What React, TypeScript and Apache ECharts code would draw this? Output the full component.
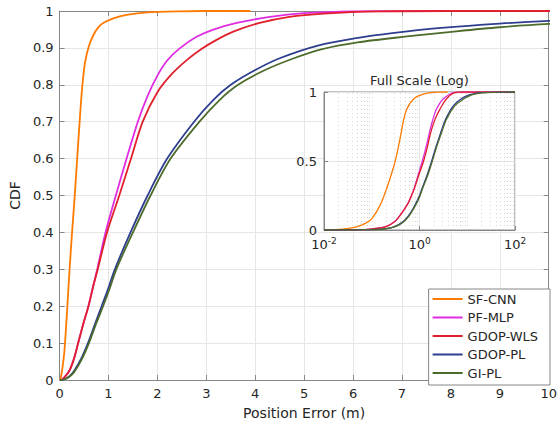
import React, { useEffect, useRef } from 'react';
import * as echarts from 'echarts';

// ---------- Data ----------
const SERIES_NAMES = ['SF-CNN', 'PF-MLP', 'GDOP-WLS', 'GDOP-PL', 'GI-PL'];
const SERIES_COLORS = ['#FF7A00', '#E02CE0', '#E0202C', '#2D3E8E', '#4D6B2B'];

const SF_CNN_X = [0.01, 0.02, 0.03, 0.05, 0.075, 0.1, 0.15, 0.2, 0.25, 0.3, 0.35, 0.4, 0.46, 0.52, 0.6, 0.7, 0.8, 0.9, 1.1, 1.4, 1.8, 2.4, 3.0, 3.9];
const SF_CNN_Y = [0, 0.004, 0.01, 0.025, 0.05, 0.08, 0.18, 0.29, 0.39, 0.48, 0.58, 0.68, 0.79, 0.86, 0.905, 0.937, 0.957, 0.968, 0.98, 0.99, 0.996, 0.999, 1.0, 1.0];

const PF_MLP_X = [0.01, 0.05, 0.1, 0.2, 0.3, 0.38, 0.48, 0.59, 0.68, 0.77, 0.94, 1.15, 1.37, 1.6, 1.8, 2.0, 2.2, 2.45, 2.8, 3.13, 3.6, 4.3, 5.0, 6.0, 8.0, 20, 100];
const PF_MLP_Y = [0, 0.001, 0.008, 0.025, 0.06, 0.1, 0.15, 0.2, 0.25, 0.3, 0.4, 0.5, 0.6, 0.7, 0.77, 0.825, 0.866, 0.898, 0.93, 0.949, 0.967, 0.984, 0.994, 0.999, 1, 1, 1];

const GDOP_WLS_X = [0.01, 0.05, 0.1, 0.2, 0.3, 0.38, 0.48, 0.59, 0.68, 0.78, 0.97, 1.22, 1.46, 1.7, 2.0, 2.3, 2.6, 2.9, 3.2, 3.55, 4.07, 4.7, 5.4, 6.5, 8.0, 20, 100];
const GDOP_WLS_Y = [0, 0.001, 0.007, 0.025, 0.06, 0.1, 0.15, 0.2, 0.25, 0.3, 0.4, 0.5, 0.6, 0.7, 0.78, 0.83, 0.867, 0.897, 0.921, 0.944, 0.967, 0.984, 0.993, 0.999, 1, 1, 1];

const GDOP_PL_X = [0.01, 0.1, 0.2, 0.3, 0.45, 0.58, 0.72, 0.86, 1.0, 1.13, 1.45, 1.8, 2.2, 2.75, 3.15, 3.5, 4.0, 4.5, 5.3, 6.1, 6.8, 7.8, 9.0, 10, 12, 15, 20, 30, 50, 100];
const GDOP_PL_Y = [0, 0.002, 0.01, 0.025, 0.06, 0.1, 0.15, 0.2, 0.25, 0.3, 0.4, 0.5, 0.6, 0.7, 0.76, 0.8, 0.84, 0.872, 0.907, 0.927, 0.94, 0.954, 0.966, 0.973, 0.982, 0.99, 0.995, 0.998, 0.9995, 1];

const GI_PL_X = [0.01, 0.1, 0.2, 0.3, 0.45, 0.6, 0.74, 0.89, 1.03, 1.16, 1.5, 1.86, 2.27, 2.86, 3.28, 3.65, 4.2, 4.75, 5.35, 6.09, 7.1, 8.11, 9.0, 10, 12, 15, 20, 30, 50, 100];
const GI_PL_Y = [0, 0.002, 0.009, 0.022, 0.055, 0.1, 0.15, 0.2, 0.25, 0.3, 0.4, 0.5, 0.6, 0.7, 0.76, 0.8, 0.84, 0.87, 0.896, 0.915, 0.931, 0.945, 0.956, 0.965, 0.977, 0.987, 0.994, 0.998, 0.9995, 1];

const SERIES_X = [SF_CNN_X, PF_MLP_X, GDOP_WLS_X, GDOP_PL_X, GI_PL_X];
const SERIES_Y = [SF_CNN_Y, PF_MLP_Y, GDOP_WLS_Y, GDOP_PL_Y, GI_PL_Y];

// Minor (dotted) grid positions of the log inset
const INSET_MINOR_TICKS = [
  0.02, 0.03, 0.04, 0.05, 0.06, 0.07, 0.08, 0.09,
  0.1, 0.2, 0.3, 0.4, 0.5, 0.6, 0.7, 0.8, 0.9,
  2, 3, 4, 5, 6, 7, 8, 9,
  10, 20, 30, 40, 50, 60, 70, 80, 90,
];

const MAIN_X_LABEL = 'Position Error (m)';
const MAIN_Y_LABEL = 'CDF';
const INSET_TITLE = 'Full Scale (Log)';

// ---------- Styles ----------
const FONT = '"DejaVu Sans", sans-serif';
const TEXT = '#262626';
const AXIS = '#868686';
const GRIDC = '#e6e6e6';

const pairs = (xs: number[], ys: number[]) => xs.map((x, i) => [x, ys[i]]);

const fmtMainY = (v: number) => {
  const r = Math.round(v * 10) / 10;
  if (r === 0) return '0';
  if (r === 1) return '1';
  return r.toFixed(1);
};

function buildOption() {
  const mainSeries = SERIES_NAMES.map((name, i) => ({
    name,
    type: 'line',
    xAxisIndex: 0,
    yAxisIndex: 0,
    data: pairs(SERIES_X[i], SERIES_Y[i]),
    symbol: 'none',
    showSymbol: false,
    smooth: 0.3,
    clip: true,
    z: 2,
    lineStyle: { color: SERIES_COLORS[i], width: 1.8 },
    itemStyle: { color: SERIES_COLORS[i] },
  }));

  const insetSeries = SERIES_NAMES.map((name, i) => ({
    name,
    type: 'line',
    xAxisIndex: 2,
    yAxisIndex: 2,
    data: pairs(SERIES_X[i], SERIES_Y[i]),
    symbol: 'none',
    showSymbol: false,
    smooth: 0.3,
    clip: true,
    z: 6,
    lineStyle: { color: SERIES_COLORS[i], width: 1.3 },
    itemStyle: { color: SERIES_COLORS[i] },
  }));

  const minorGrid = {
    name: '__minor',
    type: 'line',
    xAxisIndex: 2,
    yAxisIndex: 2,
    data: [],
    symbol: 'none',
    z: 5,
    silent: true,
    markLine: {
      silent: true,
      symbol: ['none', 'none'],
      label: { show: false },
      lineStyle: { color: '#d4d4d4', type: [1, 3], width: 1 },
      data: INSET_MINOR_TICKS.map((v) => ({ xAxis: v })),
    },
  };

  return {
    animation: false,
    backgroundColor: '#ffffff',
    textStyle: { fontFamily: FONT },
    grid: [
      { left: 55, right: 10, top: 11, bottom: 39 },
      {
        left: 324, right: 45, top: 92, bottom: 195,
        show: true, backgroundColor: '#ffffff', borderColor: AXIS, borderWidth: 1, z: 3,
      },
    ],
    xAxis: [
      {
        gridIndex: 0, type: 'value', min: 0, max: 10, interval: 1, position: 'bottom',
        axisLine: { show: true, onZero: false, lineStyle: { color: AXIS } },
        axisTick: { show: true, inside: true, length: 5, lineStyle: { color: AXIS } },
        axisLabel: { color: TEXT, fontSize: 13, margin: 7, fontFamily: FONT },
        splitLine: { show: true, lineStyle: { color: GRIDC } },
        name: MAIN_X_LABEL, nameLocation: 'middle', nameGap: 26,
        nameTextStyle: { color: TEXT, fontSize: 14, fontFamily: FONT },
      },
      {
        gridIndex: 0, type: 'value', min: 0, max: 10, interval: 1, position: 'top',
        axisLine: { show: true, onZero: false, lineStyle: { color: AXIS } },
        axisTick: { show: true, inside: true, length: 5, lineStyle: { color: AXIS } },
        axisLabel: { show: false },
        splitLine: { show: false },
      },
      {
        gridIndex: 1, type: 'log', logBase: 10, min: 0.01, max: 100, interval: 2, position: 'bottom', z: 4,
        axisLine: { show: true, onZero: false, lineStyle: { color: AXIS } },
        axisTick: { show: true, inside: true, length: 4, lineStyle: { color: AXIS } },
        axisLabel: {
          margin: 6,
          formatter: (v: number) => `{b|10}{e|${Math.round(Math.log10(v))}}`,
          rich: {
            b: { fontSize: 13, color: TEXT, fontFamily: FONT, verticalAlign: 'bottom' },
            e: { fontSize: 9, color: TEXT, fontFamily: FONT, verticalAlign: 'bottom', padding: [0, 0, 6, 0] },
          },
        },
        splitLine: { show: true, lineStyle: { color: GRIDC } },
      },
    ],
    yAxis: [
      {
        gridIndex: 0, type: 'value', min: 0, max: 1, interval: 0.1, position: 'left',
        axisLine: { show: true, onZero: false, lineStyle: { color: AXIS } },
        axisTick: { show: true, inside: true, length: 5, lineStyle: { color: AXIS } },
        axisLabel: { color: TEXT, fontSize: 13, margin: 6, fontFamily: FONT, formatter: fmtMainY },
        splitLine: { show: true, lineStyle: { color: GRIDC } },
        name: MAIN_Y_LABEL, nameLocation: 'middle', nameGap: 24, nameRotate: 90,
        nameTextStyle: { color: TEXT, fontSize: 14, fontFamily: FONT },
      },
      {
        gridIndex: 0, type: 'value', min: 0, max: 1, interval: 0.1, position: 'right',
        axisLine: { show: true, onZero: false, lineStyle: { color: AXIS } },
        axisTick: { show: true, inside: true, length: 5, lineStyle: { color: AXIS } },
        axisLabel: { show: false },
        splitLine: { show: false },
      },
      {
        gridIndex: 1, type: 'value', min: 0, max: 1, interval: 0.5, position: 'left', z: 4,
        axisLine: { show: true, onZero: false, lineStyle: { color: AXIS } },
        axisTick: { show: true, inside: true, length: 4, lineStyle: { color: AXIS } },
        axisLabel: { color: TEXT, fontSize: 13, margin: 7, fontFamily: FONT, formatter: (v: number) => String(v) },
        splitLine: { show: true, lineStyle: { color: GRIDC } },
      },
    ],
    legend: {
      data: SERIES_NAMES,
      orient: 'vertical',
      right: 10,
      bottom: 40,
      icon: 'rect',
      itemWidth: 30,
      itemHeight: 2,
      itemGap: 4.5,
      padding: [3, 12, 5, 4],
      backgroundColor: '#ffffff',
      borderColor: AXIS,
      borderWidth: 1,
      borderRadius: 0,
      selectedMode: false,
      z: 8,
      textStyle: { fontSize: 13, lineHeight: 14, color: TEXT, fontFamily: FONT },
    },
    graphic: [
      {
        type: 'text',
        x: 419.5,
        y: 80,
        z: 10,
        style: {
          text: INSET_TITLE,
          font: `13px ${FONT}`,
          fill: TEXT,
          align: 'center',
          verticalAlign: 'middle',
          textAlign: 'center',
          textVerticalAlign: 'middle',
        },
      },
    ],
    series: [...mainSeries, minorGrid, ...insetSeries],
  };
}

export default function App() {
  const ref = useRef<HTMLDivElement>(null);
  useEffect(() => {
    if (!ref.current) return;
    const chart = echarts.init(ref.current, undefined, { renderer: 'svg' });
    chart.setOption(buildOption() as any);
    return () => chart.dispose();
  }, []);
  return (
    <div
      ref={ref}
      style={{ position: 'fixed', left: 0, top: 0, width: 560, height: 425, background: '#fff' }}
    />
  );
}
